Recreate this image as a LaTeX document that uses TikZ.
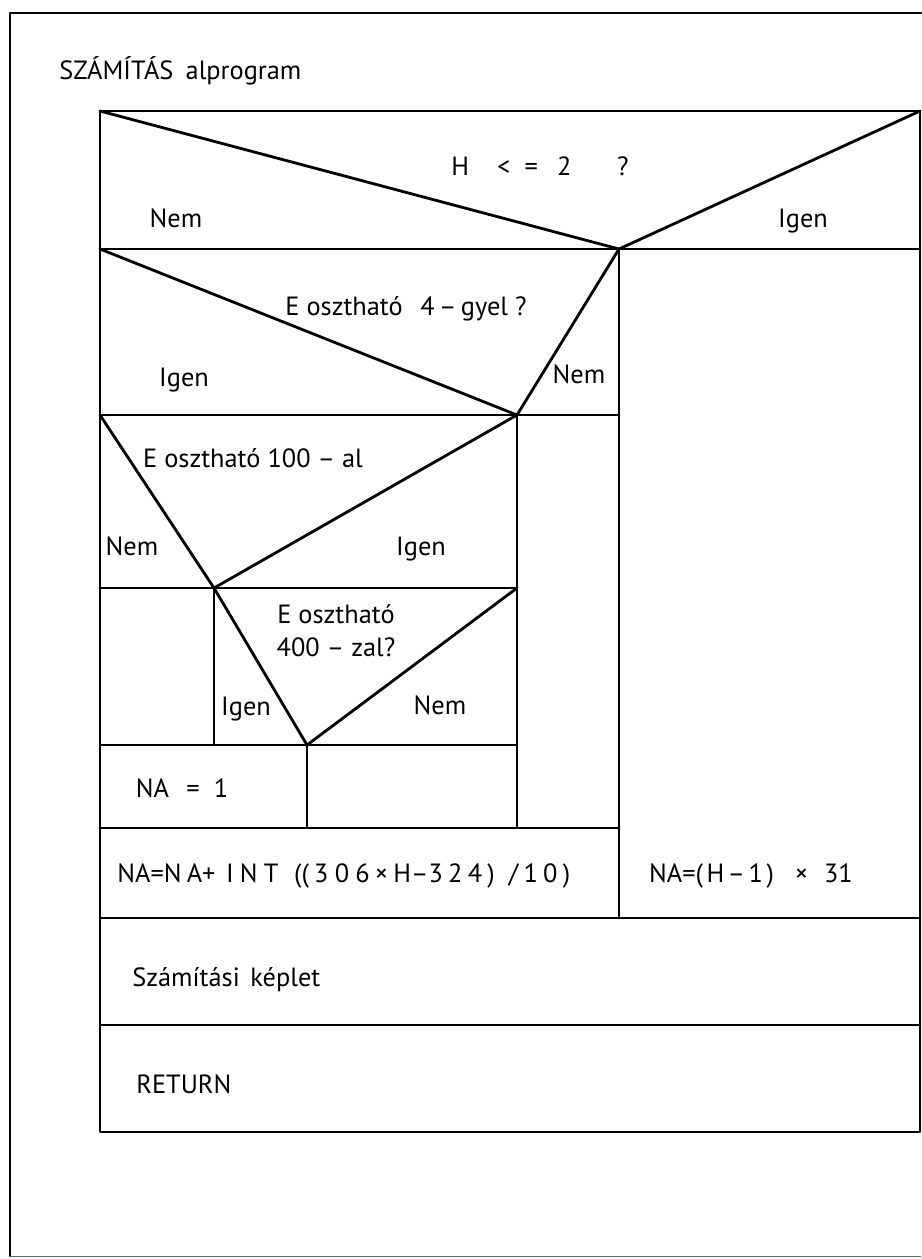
\documentclass[tikz,border=0pt]{standalone}
\usepackage{fontspec}
\setmainfont{PT Sans}
\begin{document}
\begin{tikzpicture}[x=0.02cm,y=-0.02cm,
  ln/.style={line width=1.6pt, line cap=round, line join=round},
  txt/.style={font=\fontsize{15}{18}\selectfont, inner sep=0pt, anchor=base},
  ltxt/.style={txt, anchor=base west}]
\useasboundingbox (0,0) rectangle (921,1259);
\fill[white] (0,0) rectangle (921,1259);
% key points
\coordinate (tl) at (100,111);
\coordinate (tr) at (920,111);
\coordinate (br) at (920,1132);
\coordinate (bl) at (100,1132);
\coordinate (a1) at (619,249);
\coordinate (a2) at (517,415);
\coordinate (a3) at (214,588);
\coordinate (a4) at (307,745);
% outer frame
\coordinate (f1) at (921,13);
\coordinate (f2) at (10,13);
\coordinate (f3) at (10,1256);
\coordinate (f4) at (921,1256);
\draw[ln] (f1) -- (f2) -- (f3);
\draw[line width=0.5pt, black!60] (f3) -- (f4);
% struktogram box
\draw[ln] (tl) -- (tr) -- (br) -- (bl) -- cycle;
% decision 1
\draw[ln] (tl) -- (a1) -- (tr);
\draw[ln] (tl |- a1) -- (tr |- a1);
\coordinate (c918) at (619,918);
\draw[ln] (a1) -- (c918);
% decision 2
\draw[ln] (tl |- a1) -- (a2) -- (a1);
\draw[ln] (tl |- a2) -- (a1 |- a2);
\coordinate (c828) at (517,828);
\draw[ln] (a2) -- (c828);
% decision 3
\draw[ln] (tl |- a2) -- (a3) -- (a2);
\draw[ln] (tl |- a3) -- (a2 |- a3);
\coordinate (c745) at (214,745);
\draw[ln] (a3) -- (c745);
% decision 4
\draw[ln] (a3) -- (a4) -- (a2 |- a3);
\draw[ln] (tl |- a4) -- (a2 |- a4);
\coordinate (c828b) at (307,828);
\draw[ln] (a4) -- (c828b);
% horizontals
\coordinate (h828) at (100,828);
\draw[ln] (h828) -- (a1 |- h828);
\coordinate (h918) at (100,918);
\draw[ln] (h918) -- (br |- h918);
\coordinate (h1025) at (100,1025);
\draw[ln] (h1025) -- (br |- h1025);
% texts
\node[ltxt] (title) at (59,79) {SZÁMÍTÁS\hspace{7pt}alprogram};
\node[txt] (q1) at (540,175) {H\hspace{16pt}<\hspace{8pt}=\hspace{11pt}2\hspace{26pt}?};
\node[txt] (n1) at (176,227) {Nem};
\node[txt] (i1) at (803,227) {Igen};
\node[txt] (q2) at (406,315) {E osztható\hspace{10pt}4\,–\,gyel ?};
\node[txt] (i2) at (184,386) {Igen};
\node[txt] (n2) at (579,383) {Nem};
\node[txt] (q3) at (253,467) {E osztható 100 – al};
\node[txt] (n3) at (132,555) {Nem};
\node[txt] (i3) at (421,555) {Igen};
\node[txt] (q4a) at (336,623) {E osztható};
\node[txt] (q4b) at (336,656) {400 – zal?};
\node[txt] (i4) at (246,715) {Igen};
\node[txt] (n4) at (440,714) {Nem};
\node[txt] (na1) at (182,797) {NA\hspace{10pt}=\hspace{8pt}1};
\node[ltxt] (na2) at (117,882) {NA=N\hspace{3pt}A+\hspace{6pt}I\hspace{3.5pt}N\hspace{3.5pt}T\hspace{9pt}((\hspace{3pt}3\hspace{3.5pt}0\hspace{3.5pt}6\hspace{3pt}×\hspace{3pt}H–3\hspace{3pt}2\hspace{3pt}4\hspace{3pt})\hspace{8pt}/\hspace{3pt}1\hspace{3pt}0\hspace{3pt})};
\node[txt] (na3) at (751,882) {NA=(\hspace{2pt}H\hspace{2pt}–\hspace{2pt}1\hspace{2pt})\hspace{12pt}×\hspace{9pt}31};
\node[ltxt] (sk) at (132,986) {Számítási\hspace{6pt}képlet};
\node[ltxt] (ret) at (136,1093) {RETURN};
\end{tikzpicture}
\end{document}
